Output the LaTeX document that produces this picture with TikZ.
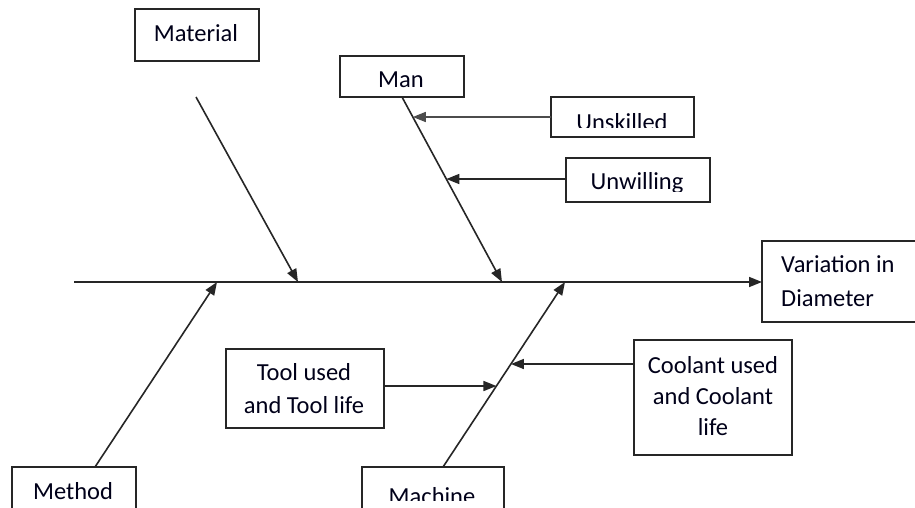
\documentclass[tikz,border=0pt]{standalone}
\usepackage{fontspec}
\setmainfont{Carlito}
\usetikzlibrary{arrows.meta}
\begin{document}
\begin{tikzpicture}[x=1pt,y=-1pt,
  ln/.style={draw=black!85,line width=1.6pt},
  arr/.style={ln,-{Triangle[length=13pt,width=10pt]}},
  boxr/.style={draw=black!85,line width=1.6pt},
  lbl/.style={inner sep=0pt,anchor=base,font=\fontsize{24.5}{33}\selectfont,text=black!90!blue},
  lbll/.style={lbl,anchor=base west}]
\clip (0,0) rectangle (915,508);
\fill[white] (0,0) rectangle (915,508);
% boxes
\draw[boxr] (135,9) rectangle (259,61);
\node[lbl] (matT) at (196,42) {Material};
\draw[boxr] (340,56) rectangle (464,97);
\node[lbl] (manT) at (401,88) {Man};
\draw[boxr] (551,97) rectangle (694,137);
\begin{scope}
  \clip (552,98) rectangle (693,127.5);
  \node[lbl] (unsT) at (622,131) {Unskilled};
\end{scope}
\draw[boxr] (566,158) rectangle (710,202);
\begin{scope}
  \clip (567,159) rectangle (709,191);
  \node[lbl] (unwT) at (637,189) {Unwilling};
\end{scope}
\draw[boxr] (762,241) rectangle (940,322);
\node[lbll] (varT1) at (781,272) {Variation in};
\node[lbll] (varT2) at (781,306) {Diameter};
\draw[boxr] (226,349) rectangle (384,428);
\node[lbl] (toolT1) at (304,380) {Tool used};
\node[lbl] (toolT2) at (304,413) {and Tool life};
\draw[boxr] (634,340) rectangle (792,455);
\node[lbl] (coolT1) at (713,373) {Coolant used};
\node[lbl] (coolT2) at (713,404) {and Coolant};
\node[lbl] (coolT3) at (713,435) {life};
\draw[boxr] (12,467) rectangle (136,540);
\node[lbl] (methT) at (73,499) {Method};
\draw[boxr] (362,467) rectangle (504,540);
\begin{scope}
  \clip (363,468) rectangle (503,500.5);
  \node[lbl] (machT) at (432,504) {Machine};
\end{scope}
% coordinates
\coordinate (spS) at (74,282);
\coordinate (spE) at (762,282);
\coordinate (matA) at (196,97);
\coordinate (matB) at (298,282);
\coordinate (manA) at (402,97);
\coordinate (manB) at (502,282);
\coordinate (metA) at (95,467);
\coordinate (metB) at (217,282);
\coordinate (macA) at (443,467);
\coordinate (macB) at (565,282);
\coordinate (unsA) at (551,117);
\coordinate (unsB) at (300,117);
\coordinate (unwA) at (566,179);
\coordinate (unwB) at (300,179);
\coordinate (toolA) at (384,386);
\coordinate (toolB) at (700,386);
\coordinate (coolA) at (634,364);
\coordinate (coolB) at (300,364);
% connectors
\draw[arr] (spS) -- (spE);
\draw[arr] (matA) -- (matB);
\draw[arr] (manA) -- (manB);
\draw[arr] (metA) -- (metB);
\draw[arr] (macA) -- (macB);
\draw[arr,draw=black!70] (unsA) -- (intersection of manA--manB and unsA--unsB);
\draw[arr] (unwA) -- (intersection of manA--manB and unwA--unwB);
\draw[arr] (toolA) -- (intersection of macA--macB and toolA--toolB);
\draw[arr] (coolA) -- (intersection of macA--macB and coolA--coolB);
\end{tikzpicture}
\end{document}
